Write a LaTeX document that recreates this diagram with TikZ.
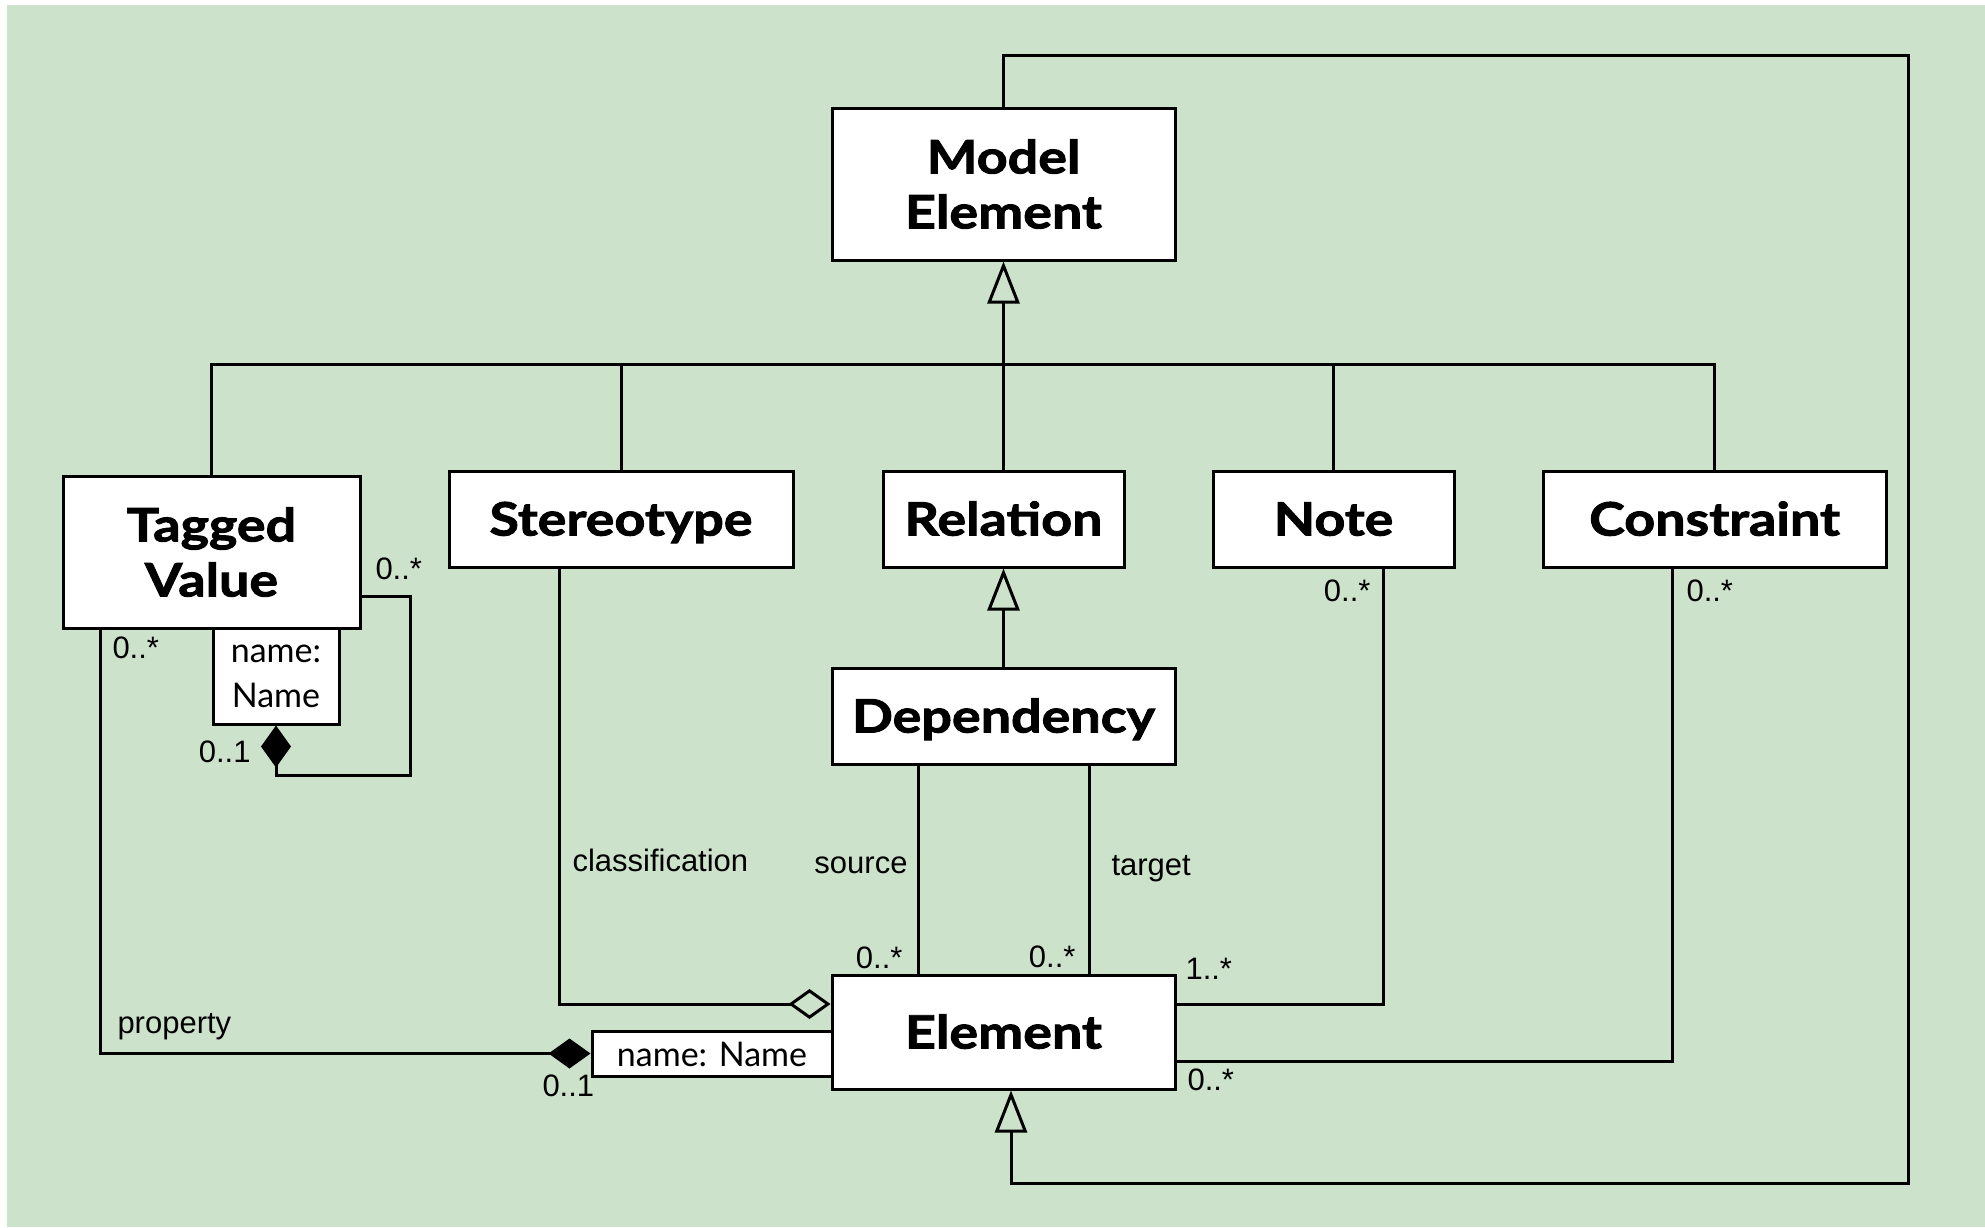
\documentclass[tikz,border=0pt]{standalone}
\usepackage{fontspec}
\setmainfont{Liberation Sans}
\newfontfamily\classfont{Lato}[BoldFeatures={FakeBold=2,FakeStretch=1.17}]
\usetikzlibrary{arrows.meta}
\definecolor{bgreen}{RGB}{204,226,203}

\begin{document}
\begin{tikzpicture}[x=0.5pt,y=-0.5pt,
  line width=1.5pt,
  cls/.style={draw, fill=white, inner sep=0pt, align=center,
    font=\classfont\bfseries\fontsize{23}{27.5}\selectfont},
  cls1/.style={cls, text height=16.5pt, text depth=0pt},
  qual/.style={draw, fill=white, inner sep=0pt, align=center,
    font=\classfont\fontsize{17}{22.5}\selectfont},
  lbl/.style={inner sep=0pt, font=\fontsize{15.5}{18}\selectfont},
  gen/.style={-{Triangle[open,length=21pt,width=16pt]}},
  agg/.style={-{Diamond[open,length=21pt,width=15pt]}},
  comp/.style={-{Diamond[length=21pt,width=15pt]}},
]
% page and background panel
\fill[white] (0,0) rectangle (1985,1227);
\fill[bgreen] (7,5) rectangle (1985,1227);
\useasboundingbox (0,0) rectangle (1985,1227);

% classes
\node[cls, minimum width=171.5pt, minimum height=76pt] (me) at (1003.5,184) {Model\\Element};
\node[cls, minimum width=148.5pt, minimum height=76pt] (tv) at (211.5,552) {Tagged\\Value};
\node[cls1, minimum width=172pt, minimum height=48pt] (st) at (621,519) {Stereotype};
\node[cls1, minimum width=120.5pt, minimum height=48pt] (rel) at (1003.5,519) {Relation};
\node[cls1, minimum width=120.5pt, minimum height=48pt] (note) at (1333.5,519) {Note};
\node[cls1, minimum width=171.5pt, minimum height=48pt] (con) at (1714.5,519) {Constraint};
\node[cls1, minimum width=171.5pt, minimum height=48pt] (dep) at (1003.5,716) {Dependency};
\node[cls1, minimum width=171.5pt, minimum height=57pt] (el) at (1003.5,1032) {Element};

% qualifiers
\node[qual, minimum width=63pt, minimum height=48pt] (tvq) at (276,676) {name:\\Name};
\node[qual, minimum width=120pt, minimum height=22.5pt, text height=12.5pt, text depth=0pt] (elq) at (712,1053.5) {name: Name};

% generalization tree under Model Element
\coordinate (bus) at (0,364);
\draw[gen] (rel.north) -- (me.south);
\draw (tv.north) |- (con.north |- bus) -- (con.north);
\draw (st.north) -- (st.north |- bus);
\draw (note.north) -- (note.north |- bus);
\draw[gen] (dep.north) -- (rel.south);

% Element specialises Model Element (outer loop)
\coordinate (loopNE) at (1908,55);
\coordinate (loopSE) at (1908,1183);
\draw[gen] (me.north) |- (loopNE) -- (loopSE) -| ([xshift=3.75pt]el.south);

% associations
\draw[agg] ([xshift=-31pt]st.south) |- ([yshift=14pt]el.west);
\draw ([xshift=-42.75pt]dep.south) -- ([xshift=-42.75pt]el.north);
\draw ([xshift=42.75pt]dep.south) -- ([xshift=42.75pt]el.north);
\draw ([xshift=24.75pt]note.south) |- ([yshift=14pt]el.east);
\draw ([xshift=-21.25pt]con.south) |- ([yshift=-14.5pt]el.east);
\draw[comp] ([xshift=-55.75pt]tv.south) |- (elq.west);
\coordinate (tvloop) at (410,775);
\draw[comp] ([yshift=-22pt]tv.east) -| (tvloop) -| (tvq.south);

% role names and multiplicities
\node[lbl, anchor=base west] (m1) at (374,579) {0..*};
\node[lbl, anchor=base west] (m2) at (111,658) {0..*};
\node[lbl, anchor=base east] (m3) at (252,762) {0..1};
\node[lbl, anchor=base west] (r1) at (116,1033) {property};
\node[lbl, anchor=base west] (m4) at (541,1096) {0..1};
\node[lbl, anchor=base west] (r2) at (571,871) {classification};
\node[lbl, anchor=base east] (r3) at (909,873) {source};
\node[lbl, anchor=base west] (r4) at (1110,875) {target};
\node[lbl, anchor=base east] (m5) at (904,968) {0..*};
\node[lbl, anchor=base east] (m6) at (1077,967) {0..*};
\node[lbl, anchor=base west] (m7) at (1184,979) {1..*};
\node[lbl, anchor=base west] (m8) at (1186,1090) {0..*};
\node[lbl, anchor=base east] (m9) at (1372,601) {0..*};
\node[lbl, anchor=base west] (m10) at (1685,601) {0..*};
\end{tikzpicture}
\end{document}
